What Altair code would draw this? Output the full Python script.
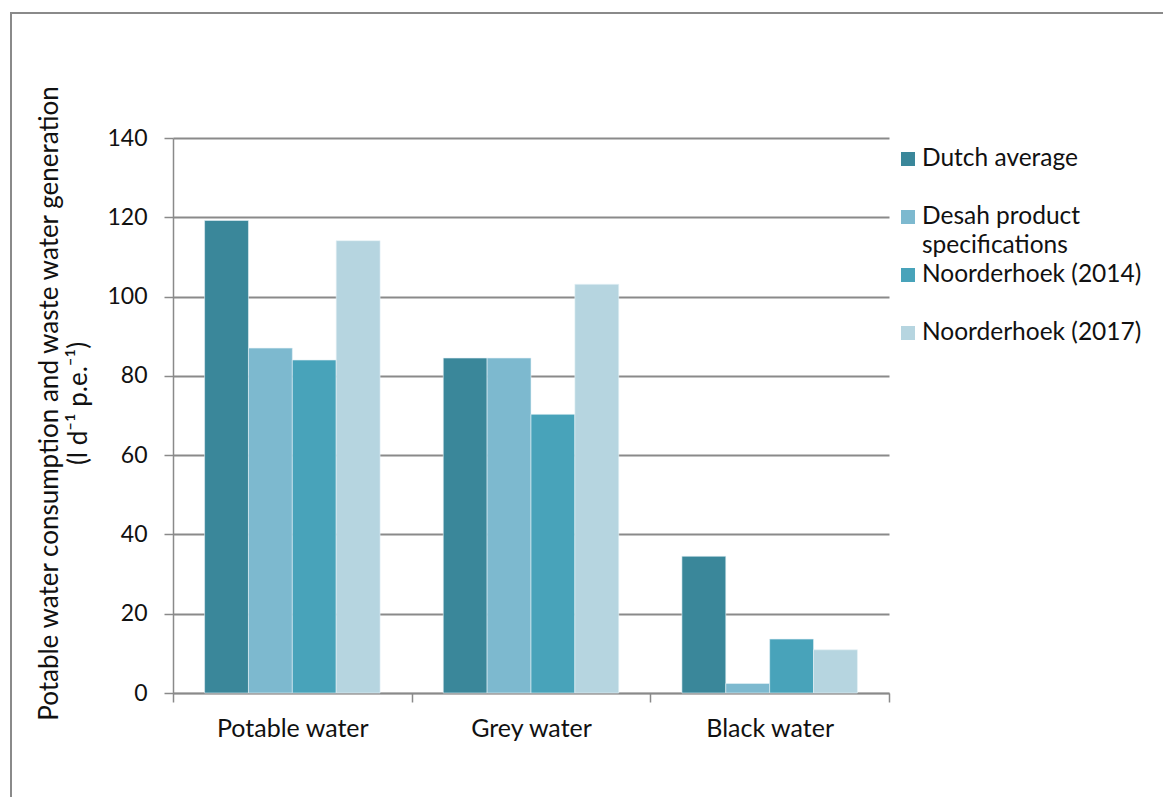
import altair as alt
import pandas as pd

# Water streams on the category axis and the four data sources
categories = ["Potable water", "Grey water", "Black water"]
sources = [
    "Dutch average",
    "Desah product specifications",
    "Noorderhoek (2014)",
    "Noorderhoek (2017)",
]
# Legend text, split where the long label wraps
legend_line1 = ["Dutch average", "Desah product", "Noorderhoek (2014)", "Noorderhoek (2017)"]
legend_line2 = ["", "specifications", "", ""]
colors = ["#3A879A", "#7DB9CF", "#48A3BA", "#B6D5E0"]

# l per day per person equivalent, one list per source
dutch_average = [119.2, 84.5, 34.5]
desah_specs = [87.0, 84.5, 2.4]
noorderhoek_2014 = [84.0, 70.3, 13.6]
noorderhoek_2017 = [114.1, 103.1, 10.9]

series = [dutch_average, desah_specs, noorderhoek_2014, noorderhoek_2017]
rows = []
for src, vals in zip(sources, series):
    for cat, v in zip(categories, vals):
        rows.append({"category": cat, "source": src, "value": v})
df = pd.DataFrame(rows)

legend_df = pd.DataFrame(
    {"source": sources, "line1": legend_line1, "line2": legend_line2}
)

FONT = "Lato"
GRID = "#8A8A8A"
TEXT = "#111111"
PLOT_W, PLOT_H = 716, 555

color_scale = alt.Scale(domain=sources, range=colors)

bars = (
    alt.Chart(df)
    .mark_bar(stroke="#E6F2F6", strokeWidth=0.6)
    .encode(
        x=alt.X(
            "category:N",
            sort=categories,
            scale=alt.Scale(paddingInner=0, paddingOuter=0),
            axis=alt.Axis(
                title=None,
                labelAngle=0,
                labelFont=FONT,
                labelFontSize=25,
                labelColor=TEXT,
                labelPadding=14,
                tickBand="extent",
                tickSize=9,
                tickColor=GRID,
                tickWidth=1.5,
                domainColor=GRID,
                domainWidth=1.5,
                grid=False,
            ),
        ),
        xOffset=alt.XOffset(
            "source:N",
            sort=sources,
            scale=alt.Scale(paddingInner=0, paddingOuter=0.72),
        ),
        y=alt.Y(
            "value:Q",
            scale=alt.Scale(domain=[0, 140], nice=False),
            axis=alt.Axis(
                values=[0, 20, 40, 60, 80, 100, 120, 140],
                title=[
                    "Potable water consumption and waste water generation",
                    "(l d\u207b\u00b9 p.e.\u207b\u00b9)",
                ],
                titleFont=FONT,
                titleFontSize=26,
                titleFontWeight="normal",
                titleColor=TEXT,
                titleLineHeight=29,
                titleAngle=270,
                titleAlign="center",
                titleBaseline="middle",
                titleX=-124,
                titleY=265,
                labelFont=FONT,
                labelFontSize=23,
                labelColor=TEXT,
                labelPadding=17,
                tickSize=9,
                tickColor=GRID,
                tickWidth=1.5,
                domainColor=GRID,
                domainWidth=1.5,
                grid=True,
                gridColor=GRID,
                gridWidth=1.8,
            ),
        ),
        color=alt.Color("source:N", scale=color_scale, legend=None),
    )
)

# Outer frame of the figure: a left and a top border line
frame_left = alt.Chart(df).mark_rule(color="#8A8A8A", strokeWidth=2).encode(
    x=alt.value(-162), y=alt.value(-126), y2=alt.value(659)
)
frame_top = alt.Chart(df).mark_rule(color="#8A8A8A", strokeWidth=2).encode(
    x=alt.value(-163), x2=alt.value(990), y=alt.value(-125)
)

main = alt.layer(frame_left, frame_top, bars).properties(width=PLOT_W, height=PLOT_H)

# Hand-built legend: coloured squares with their labels
legend_y = alt.Y(
    "source:N",
    sort=sources,
    scale=alt.Scale(type="point", padding=0.362),
    axis=None,
)
legend_base = alt.Chart(legend_df).encode(y=legend_y)
swatches = legend_base.mark_square(size=196, opacity=1).encode(
    x=alt.value(19),
    color=alt.Color("source:N", scale=color_scale, legend=None),
)
text1 = legend_base.mark_text(
    align="left", baseline="middle", font=FONT, fontSize=24.5, color=TEXT
).encode(x=alt.value(33), text="line1:N")
text2 = legend_base.mark_text(
    align="left", baseline="middle", font=FONT, fontSize=24.5, color=TEXT, dy=29
).encode(x=alt.value(33), text="line2:N")
legend = alt.layer(swatches, text1, text2).properties(width=260, height=216)

chart = (
    alt.hconcat(main, legend, spacing=0, bounds="flush")
    .properties(
        padding={"left": 9, "top": 11, "right": 0, "bottom": 0},
        background="white",
    )
    .configure_view(strokeWidth=0, stroke="transparent")
)

chart.save("out.html", embed_options={"renderer": "svg", "actions": False})
